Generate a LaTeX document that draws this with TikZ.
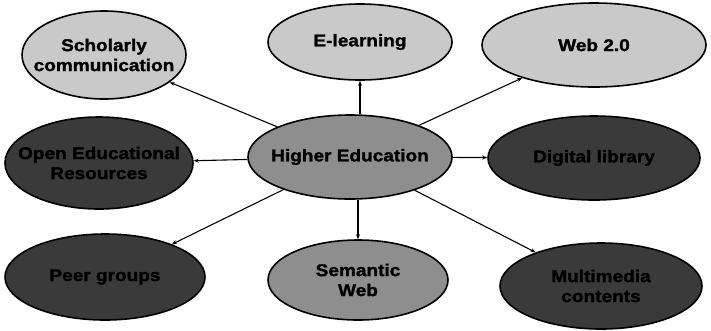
\documentclass[tikz,border=0pt]{standalone}
\usepackage{fontspec}
\setmainfont{Liberation Sans}[BoldFeatures={FakeStretch=1.12,FakeBold=1.5}]
\usetikzlibrary{shapes.geometric,arrows.meta}
\definecolor{lightfill}{HTML}{C9C9C9}
\definecolor{midfill}{HTML}{8E8E8E}
\definecolor{darkfill}{HTML}{3A3A3A}
\tikzset{
  bubble/.style={ellipse,draw=black,line width=1.6pt,inner xsep=-30pt,inner ysep=-8pt,
    font=\bfseries\fontsize{17}{20}\selectfont,align=center,text=black},
  link/.style={line width=1.1pt,-{Stealth[length=5pt,width=4pt]}}
}
\begin{document}
\begin{tikzpicture}[x=1pt,y=-1pt]
\useasboundingbox (0,0) rectangle (711,330);
\node[bubble,fill=midfill,minimum width=204pt,minimum height=84pt] (he) at (350,157) {Higher Education};
\node[bubble,fill=lightfill,minimum width=164pt,minimum height=88pt] (sc) at (104,55) {Scholarly\\communication};
\node[bubble,fill=lightfill,minimum width=184pt,minimum height=76pt] (el) at (360,42) {E-learning};
\node[bubble,fill=lightfill,minimum width=224pt,minimum height=84pt] (w2) at (594,45) {Web 2.0};
\node[bubble,fill=darkfill,minimum width=188pt,minimum height=92pt] (oer) at (99,163) {Open Educational\\Resources};
\node[bubble,fill=darkfill,minimum width=212pt,minimum height=84pt] (dl) at (594,158) {Digital library};
\node[bubble,fill=darkfill,minimum width=200pt,minimum height=86pt] (pg) at (105,277) {Peer groups};
\node[bubble,fill=midfill,minimum width=180pt,minimum height=80pt] (sw) at (358,280) {Semantic\\Web};
\node[bubble,fill=darkfill,minimum width=202pt,minimum height=86pt] (mm) at (601,286) {Multimedia\\contents};
\draw[link] (he) -- (sc);
\draw[link] (he.north -| el.south) -- (el);
\draw[link] (he) -- (w2);
\draw[link] (he) -- (oer);
\draw[link] (he) -- (dl);
\draw[link] (he) -- (pg);
\draw[link] (he.south -| sw.north) -- (sw);
\draw[link] (he) -- (mm);
\end{tikzpicture}
\end{document}
